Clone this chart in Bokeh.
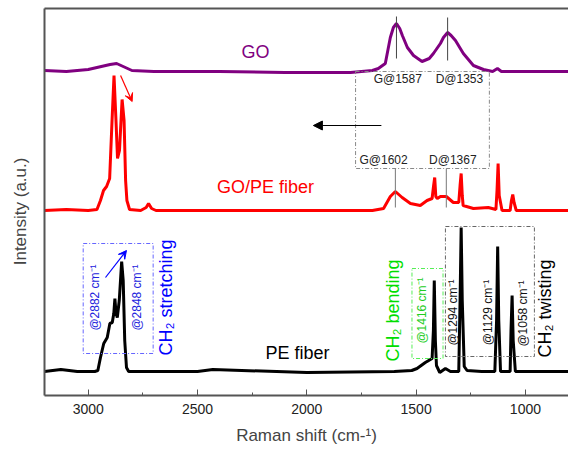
import math
from bokeh.plotting import figure
from bokeh.models import (Range1d, SingleIntervalTicker, FixedTicker, LinearAxis,
                          Arrow, NormalHead, VeeHead)
from bokeh.core.properties import value
from bokeh.embed import file_html
from bokeh.resources import INLINE

FONT = "Liberation Sans"

# ---- spectra (x: Raman shift cm-1, y: intensity a.u., stacked) ----
go_x = [3200, 3100, 3000, 2940, 2900, 2870, 2840, 2800, 2700, 2400, 2100, 1800, 1700, 1673,
        1641, 1618, 1604, 1590, 1575, 1563, 1540, 1512, 1473, 1440, 1421, 1389, 1375, 1356,
        1340, 1320, 1284, 1238, 1192, 1150, 1128, 1110, 1000, 800]
go_y = [325, 324, 326, 329, 331, 332, 329, 325, 324, 324, 323, 323, 325, 327,
        332, 358, 368, 372, 367, 360, 348, 340, 334, 337, 342, 352, 358, 363,
        360, 355, 342, 330, 326, 324, 327, 324, 324, 324]

gope_x = [3200, 3100, 3000, 2960, 2944, 2930, 2916, 2902, 2891, 2882, 2873, 2866, 2857, 2845,
          2836, 2829, 2823, 2811, 2760, 2735, 2724, 2710, 2690, 2000, 1700, 1649, 1618, 1595,
          1564, 1526, 1481, 1450, 1427, 1420, 1415, 1410, 1403, 1389, 1362, 1330, 1305, 1299,
          1294, 1289, 1285, 1238, 1170, 1135, 1130, 1125, 1120, 1107, 1070, 1064, 1058, 1052,
          1042, 900, 800]
gope_y = [185, 186, 185, 186, 195, 205, 209, 217, 275, 320, 275, 237, 245, 296,
          275, 215, 195, 186, 185, 188, 192, 187, 185, 185, 185, 187, 199, 204,
          198, 192, 190, 195, 197, 210, 218, 199, 197, 199, 199, 193, 193, 210,
          222, 200, 190, 187, 188, 186, 205, 232, 200, 185, 185, 195, 201, 193,
          185, 185, 185]

pe_x = [3200, 3125, 3050, 2970, 2956, 2944, 2929, 2913, 2901, 2890, 2883, 2878, 2873, 2867,
        2858, 2847, 2840, 2833, 2825, 2815, 2500, 2430, 2000, 1600, 1520, 1496, 1458, 1427,
        1421, 1417, 1412, 1407, 1392, 1366, 1343, 1305, 1299, 1294, 1289, 1280, 1267, 1200,
        1140, 1132, 1127, 1122, 1114, 1070, 1066, 1061, 1056, 1046, 800]
pe_y = [24, 26, 24, 24, 25, 38, 52, 58, 72, 73, 82, 97, 83, 78,
        95, 134, 115, 55, 28, 24, 24, 26, 23, 24, 25, 27, 33, 37,
        65, 115, 55, 30, 23, 27, 24, 24, 95, 168, 95, 29, 25, 24,
        24, 75, 149, 75, 24, 24, 65, 100, 55, 24, 24]

# ---- annotations ----
series_labels = ["GO", "GO/PE fiber", "PE fiber"]
series_label_x = [2235, 2189, 2043]
series_label_y = [344, 209, 43]
series_colors = ["#800080", "#ff0000", "#000000"]

go_band_labels = ["G@1587", "D@1353"]
go_band_x = [1584, 1302]
go_band_y = [317, 317]
go_mark_x = [1590, 1356]
go_mark_y0 = [337, 335]
go_mark_y1 = [379, 378]

gope_band_labels = ["G@1602", "D@1367"]
gope_band_x = [1649, 1332]
gope_band_y = [236, 236]
gope_mark_x = [1595, 1362]
gope_mark_y0 = [188, 188]
gope_mark_y1 = [227, 227]

stretch_labels = ["@2882 cm\u207b\u00b9", "@2848 cm\u207b\u00b9"]
stretch_x = [2967, 2779]
stretch_y = [98, 98]
twist_labels = ["@1294 cm\u207b\u00b9", "@1129 cm\u207b\u00b9", "@1058 cm\u207b\u00b9"]
twist_x = [1331, 1173, 1011]
twist_y = [83, 83, 82]

p = figure(width=568, height=452, x_range=Range1d(3200, 803), y_range=Range1d(0, 387),
           output_backend="svg", toolbar_location=None,
           min_border_left=44, min_border_right=0, min_border_top=8, min_border_bottom=57)
p.xgrid.visible = False
p.ygrid.visible = False
p.outline_line_color = None
p.background_fill_color = "white"

AX = "#555555"
xa = p.xaxis[0]
xa.ticker = SingleIntervalTicker(interval=500, num_minor_ticks=2)
xa.major_tick_in = 6
xa.major_tick_out = 0
xa.minor_tick_in = 3
xa.minor_tick_out = 0
xa.axis_line_width = 2
xa.axis_line_color = AX
xa.major_tick_line_color = AX
xa.minor_tick_line_color = AX
xa.major_label_text_font = FONT
xa.major_label_text_font_size = "14px"
xa.major_label_text_color = "#222222"
xa.major_label_standoff = 8
xa.axis_label = "Raman shift (cm-\u00b9)"
xa.axis_label_text_font = FONT
xa.axis_label_text_font_size = "17px"
xa.axis_label_text_font_style = "normal"
xa.axis_label_standoff = 9

ya = p.yaxis[0]
ya.ticker = FixedTicker(ticks=[])
ya.axis_line_width = 2
ya.axis_line_color = AX
ya.axis_label = "Intensity (a.u.)\u00a0\u00a0\u00a0\u00a0"
ya.axis_label_text_font = FONT
ya.axis_label_text_font_size = "17px"
ya.axis_label_text_font_style = "normal"
ya.axis_label_standoff = 15
ya.major_label_text_font_size = "0px"

top = LinearAxis(ticker=FixedTicker(ticks=[]), axis_line_width=2, axis_line_color=AX,
                 major_label_text_font_size="0px", major_tick_out=0, major_tick_in=0,
                 minor_tick_out=0, major_label_standoff=0)
p.add_layout(top, "above")

# spectra
p.line(go_x, go_y, line_color=series_colors[0], line_width=3)
p.line(gope_x, gope_y, line_color=series_colors[1], line_width=3)
p.line(pe_x, pe_y, line_color=series_colors[2], line_width=3)

# series labels
p.text(series_label_x, series_label_y, text=series_labels, text_color=series_colors,
       text_font=value(FONT), text_font_size="18px", text_align="center",
       text_baseline="middle")

# GO / GO-PE band markers
p.segment(go_mark_x, go_mark_y0, go_mark_x, go_mark_y1, line_color="#444444", line_width=1)
p.segment(gope_mark_x, gope_mark_y0, gope_mark_x, gope_mark_y1, line_color="#777777", line_width=1)
p.text(go_band_x, go_band_y, text=go_band_labels, text_font=value(FONT), text_font_size="12px",
       text_color="#222222", text_align="center", text_baseline="middle")
p.text(gope_band_x, gope_band_y, text=gope_band_labels, text_font=value(FONT), text_font_size="12px",
       text_color="#222222", text_align="center", text_baseline="middle")

# gray dash-dot box around G/D region
p.quad(left=[1777], right=[1165], bottom=[227], top=[324], fill_color=None,
       line_color="#888888", line_width=1, line_dash="4 2 1 2")

# black shift arrow
p.add_layout(Arrow(end=NormalHead(size=9, fill_color="black", line_color="black"),
                   x_start=1659, y_start=270, x_end=1970, y_end=270,
                   line_color="black", line_width=1.2))
# red arrow
p.add_layout(Arrow(end=VeeHead(size=8, fill_color="red", line_color="red"),
                   x_start=2852, y_start=320, x_end=2799, y_end=294,
                   line_color="red", line_width=1.2))
# blue arrow
p.add_layout(Arrow(end=VeeHead(size=8, fill_color="blue", line_color="blue"),
                   x_start=2921, y_start=118, x_end=2825, y_end=145,
                   line_color="blue", line_width=1.2))

# CH2 stretching box
p.quad(left=[3023], right=[2703], bottom=[42], top=[152], fill_color=None,
       line_color="#6666ff", line_width=1, line_dash="4 2 1 2")
p.text(stretch_x, stretch_y, text=stretch_labels, angle=math.pi / 2, text_font=value(FONT),
       text_font_size="12px", text_color="#2222dd", text_align="center", text_baseline="middle")
p.text([2642], [98], text=["CH\u2082 stretching"], angle=math.pi / 2, text_font=value(FONT),
       text_font_size="18px", text_color="#0000ff", text_align="center", text_baseline="middle")

# CH2 bending box
p.quad(left=[1519], right=[1377], bottom=[37], top=[127], fill_color=None,
       line_color="#55ee55", line_width=1, line_dash="4 2 1 2")
p.text([1473], [85], text=["@1416 cm\u207b\u00b9"], angle=math.pi / 2, text_font=value(FONT),
       text_font_size="12px", text_color="#22cc22", text_align="center", text_baseline="middle")
p.text([1604], [85], text=["CH\u2082 bending"], angle=math.pi / 2, text_font=value(FONT),
       text_font_size="18px", text_color="#00dd00", text_align="center", text_baseline="middle")

# CH2 twisting box
p.quad(left=[1366], right=[959], bottom=[39], top=[169], fill_color=None,
       line_color="#666666", line_width=1, line_dash="4 2 1 2")
p.text(twist_x, twist_y, text=twist_labels, angle=math.pi / 2, text_font=value(FONT),
       text_font_size="12px", text_color="#111111", text_align="center", text_baseline="middle")
p.text([909], [87], text=["CH\u2082 twisting"], angle=math.pi / 2, text_font=value(FONT),
       text_font_size="18px", text_color="#000000", text_align="center", text_baseline="middle")

open("out.html", "w").write(file_html(p, INLINE))
